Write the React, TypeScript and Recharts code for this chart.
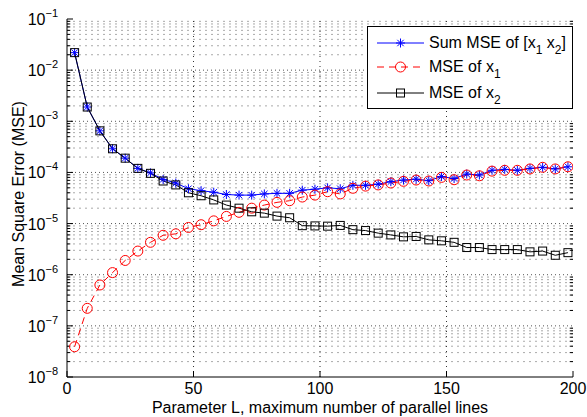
import React from 'react'
import { LineChart, Line, XAxis, YAxis, ReferenceLine, Legend } from 'recharts'

// parameter L (x) and the three MSE curves
const paramL = [
  3, 8, 13, 18, 23, 28, 33, 38, 43, 48, 53, 58, 63, 68, 73, 78, 83, 88, 93, 98,
  103, 108, 113, 118, 123, 128, 133, 138, 143, 148, 153, 158, 163, 168, 173, 178, 183, 188, 193, 198,
]
const sumMse = [
  2.2e-2, 1.9e-3, 6.5e-4, 2.9e-4, 1.9e-4, 1.2e-4, 9.8e-5, 7.3e-5, 6.2e-5, 4.8e-5,
  4.4e-5, 4.1e-5, 3.7e-5, 3.6e-5, 3.6e-5, 3.8e-5, 3.9e-5, 3.9e-5, 4.5e-5, 4.7e-5,
  5.0e-5, 4.8e-5, 5.6e-5, 5.6e-5, 5.9e-5, 6.6e-5, 7.1e-5, 7.4e-5, 6.9e-5, 8.3e-5,
  7.6e-5, 9.3e-5, 8.9e-5, 1.1e-4, 1.15e-4, 1.1e-4, 1.2e-4, 1.26e-4, 1.17e-4, 1.29e-4,
]
const mseX1 = [
  3.9e-8, 2.2e-7, 6.3e-7, 1.1e-6, 1.9e-6, 2.9e-6, 4.3e-6, 5.9e-6, 6.3e-6, 8.4e-6,
  9.5e-6, 1.13e-5, 1.38e-5, 1.66e-5, 2.0e-5, 2.3e-5, 2.6e-5, 2.8e-5, 3.3e-5, 3.6e-5,
  4.2e-5, 3.8e-5, 4.9e-5, 5.4e-5, 5.7e-5, 6.2e-5, 6.7e-5, 7.1e-5, 6.8e-5, 8.0e-5,
  7.2e-5, 8.9e-5, 8.6e-5, 1.06e-4, 1.1e-4, 1.1e-4, 1.17e-4, 1.26e-4, 1.17e-4, 1.29e-4,
]
const mseX2 = [
  2.2e-2, 1.9e-3, 6.5e-4, 2.9e-4, 1.9e-4, 1.2e-4, 9.6e-5, 6.8e-5, 5.7e-5, 4.0e-5,
  3.5e-5, 2.9e-5, 2.3e-5, 2.0e-5, 1.7e-5, 1.6e-5, 1.4e-5, 1.3e-5, 9.1e-6, 9.0e-6,
  8.9e-6, 9.2e-6, 7.6e-6, 7.3e-6, 6.5e-6, 6.0e-6, 5.5e-6, 5.6e-6, 4.8e-6, 4.6e-6,
  4.3e-6, 3.4e-6, 3.4e-6, 3.1e-6, 3.1e-6, 3.1e-6, 2.8e-6, 2.9e-6, 2.4e-6, 2.7e-6,
]

const xTicks = [0, 50, 100, 150, 200]
const yDecades = [1e-8, 1e-7, 1e-6, 1e-5, 1e-4, 1e-3, 1e-2, 1e-1]
const seriesNames = ['Sum MSE of [x1 x2]', 'MSE of x1', 'MSE of x2']

const data = paramL.map((L, i) => ({ L, sum: sumMse[i], x1: mseX1[i], x2: mseX2[i] }))

// minor log grid values 2..9 x 10^k
const yMinors: number[] = []
yDecades.slice(0, -1).forEach((d) => {
  for (let m = 2; m <= 9; m++) yMinors.push(m * d)
})

const FONT = '"Liberation Sans", Arial, Helvetica, sans-serif'
const FS = 16

const Star = (props: any) => {
  const { cx, cy, index } = props
  if (cx == null || cy == null) return <g key={index} />
  const r = 4.5
  const d = 3.2
  return (
    <g key={index} stroke="#0000ff" strokeWidth={1}>
      <line x1={cx - r} y1={cy} x2={cx + r} y2={cy} />
      <line x1={cx} y1={cy - r} x2={cx} y2={cy + r} />
      <line x1={cx - d} y1={cy - d} x2={cx + d} y2={cy + d} />
      <line x1={cx - d} y1={cy + d} x2={cx + d} y2={cy - d} />
    </g>
  )
}

const Ring = (props: any) => {
  const { cx, cy, index } = props
  if (cx == null || cy == null) return <g key={index} />
  return <circle key={index} cx={cx} cy={cy} r={5} fill="none" stroke="#ff0000" strokeWidth={1} />
}

const Box = (props: any) => {
  const { cx, cy, index } = props
  if (cx == null || cy == null) return <g key={index} />
  return <rect key={index} x={cx - 4} y={cy - 4} width={8} height={8} fill="none" stroke="#000" strokeWidth={1} />
}

const YTick = (props: any) => {
  const { x, y, payload } = props
  const exp = Math.round(Math.log10(payload.value))
  return (
    <text x={x} y={y} dy={6} textAnchor="end" fontSize={FS} fontFamily={FONT} fill="#000">
      10<tspan dy={-8} fontSize={11}>{'\u2212' + Math.abs(exp)}</tspan>
    </text>
  )
}

const XTick = (props: any) => {
  const { x, y, payload } = props
  return (
    <text x={x} y={y} dy={6} textAnchor="middle" fontSize={FS} fontFamily={FONT} fill="#000">
      {payload.value}
    </text>
  )
}

const withSubs = (s: string) =>
  s.split(/(x\d)/).map((part, i) =>
    /^x\d$/.test(part) ? (
      <span key={i}>
        x<sub style={{ fontSize: 12, verticalAlign: -6, lineHeight: 0 }}>{part[1]}</sub>
      </span>
    ) : (
      <span key={i}>{part}</span>
    )
  )

const legendMarks = [
  { color: '#0000ff', dash: undefined, mark: (cx: number, cy: number) => <Star cx={cx} cy={cy} index={0} /> },
  { color: '#ff0000', dash: '7 5', mark: (cx: number, cy: number) => <Ring cx={cx} cy={cy} index={0} /> },
  { color: '#000000', dash: undefined, mark: (cx: number, cy: number) => <Box cx={cx} cy={cy} index={0} /> },
]
const legendRowTops = [17, 41, 67]

const renderLegend = () => (
  <div
    style={{
      position: 'relative',
      width: 206,
      height: 83,
      boxSizing: 'border-box',
      border: '1px solid #000',
      background: '#fff',
      fontFamily: FONT,
      fontSize: FS,
    }}
  >
    {seriesNames.map((name, i) => (
      <div key={name} style={{ position: 'absolute', left: 8, top: legendRowTops[i] - 10, height: 18, display: 'flex', alignItems: 'center' }}>
        <svg width={50} height={18} style={{ display: 'block' }}>
          <line x1={1} y1={9} x2={48} y2={9} stroke={legendMarks[i].color} strokeWidth={1} strokeDasharray={legendMarks[i].dash} />
          {legendMarks[i].mark(24.5, 9)}
        </svg>
        <span style={{ marginLeft: 3, whiteSpace: 'nowrap', lineHeight: '18px' }}>{withSubs(name)}</span>
      </div>
    ))}
  </div>
)

export default function App() {
  return (
    <div style={{ position: 'absolute', left: 0, top: 0, width: 587, height: 417, background: '#fff' }}>
      <LineChart width={587} height={417} data={data} margin={{ top: 19, right: 14, bottom: 0, left: 12 }}>
        {yMinors.map((v) => (
          <ReferenceLine key={'gm' + v} y={v} stroke="#aaa" strokeDasharray="2 4" strokeWidth={1} />
        ))}
        {yDecades.slice(1, -1).map((v) => (
          <ReferenceLine key={'gd' + v} y={v} stroke="#555" strokeDasharray="1 3" strokeWidth={1} />
        ))}
        {xTicks.slice(1, -1).map((v) => (
          <ReferenceLine key={'gx' + v} x={v} stroke="#333" strokeDasharray="1 4" strokeWidth={1} />
        ))}
        {yMinors.map((v) => (
          <ReferenceLine key={'tl' + v} segment={[{ x: 0, y: v }, { x: 1.3, y: v }]} stroke="#000" strokeWidth={1} />
        ))}
        {yMinors.map((v) => (
          <ReferenceLine key={'tr' + v} segment={[{ x: 198.7, y: v }, { x: 200, y: v }]} stroke="#000" strokeWidth={1} />
        ))}
        <XAxis
          dataKey="L"
          type="number"
          domain={[0, 200]}
          ticks={xTicks}
          interval={0}
          height={40}
          tickSize={-6}
          tickMargin={17}
          tick={<XTick />}
          stroke="#000"
          allowDataOverflow
          label={{ value: 'Parameter L, maximum number of parallel lines', position: 'insideBottom', offset: 4, fill: '#000', fontSize: FS, fontFamily: FONT }}
        />
        <XAxis xAxisId="top" orientation="top" type="number" domain={[0, 200]} ticks={xTicks} interval={0} height={0} tickSize={-6} tick={false} stroke="#000" />
        <YAxis
          type="number"
          scale="log"
          domain={[1e-8, 1e-1]}
          ticks={yDecades}
          interval={0}
          width={55}
          tickSize={-6}
          tickMargin={15}
          tick={<YTick />}
          stroke="#000"
          allowDataOverflow
          label={{
            content: () => (
              <text x={18} y={194} transform="rotate(-90 18 194)" textAnchor="middle" dominantBaseline="central" fontSize={FS} fontFamily={FONT} fill="#000">
                Mean Square Error (MSE)
              </text>
            ),
          }}
        />
        <YAxis yAxisId="right" orientation="right" type="number" scale="log" domain={[1e-8, 1e-1]} ticks={yDecades} interval={0} width={0} tickSize={-6} tick={false} stroke="#000" allowDataOverflow />
        <Line dataKey="sum" name={seriesNames[0]} stroke="#0000ff" strokeWidth={1} dot={Star} isAnimationActive={false} />
        <Line dataKey="x1" name={seriesNames[1]} stroke="#ff0000" strokeWidth={1} strokeDasharray="7 5" dot={Ring} isAnimationActive={false} />
        <Line dataKey="x2" name={seriesNames[2]} stroke="#000000" strokeWidth={1} dot={Box} isAnimationActive={false} />
        <Legend
          content={renderLegend}
          layout="horizontal"
          verticalAlign="middle"
          align="center"
          wrapperStyle={{ left: 367, top: 26, width: 206, height: 83 }}
        />
      </LineChart>
    </div>
  )
}
